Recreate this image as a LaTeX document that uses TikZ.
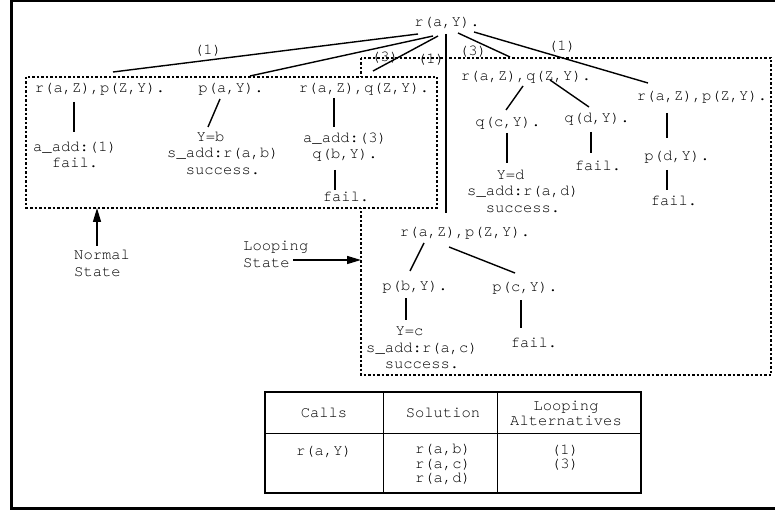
\documentclass[tikz,border=0pt]{standalone}
\usepackage{fontspec}
\setmonofont{texgyrecursor-regular.otf}
\usetikzlibrary{arrows.meta}

\begin{document}
\begin{tikzpicture}[x=1pt,y=-1pt,
  every node/.style={font=\ttfamily\fontsize{15.5}{16.5}\selectfont,inner sep=0pt,align=center},
  tabtext/.style={font=\ttfamily\fontsize{15.5}{14.5}\selectfont},
  conn/.style={line width=1.4pt},
  dotbox/.style={line width=1.3pt,dash pattern=on 2.5pt off 2pt},
  ptr/.style={line width=1.4pt,-{Triangle[length=14pt,width=8pt]}}]
  \useasboundingbox (0,0) rectangle (775,510);
  \draw[line width=3pt] (777,1) -- (11.5,1) -- (11.5,508.5) -- (777,508.5);
  % the two states
  \coordinate (rbox-nw) at (361,58);
  \coordinate (rbox-se) at (771,375);
  \coordinate (lbox-nw) at (26,77);
  \coordinate (lbox-se) at (437,208);
  \draw[dotbox] (rbox-nw) rectangle (rbox-se);
  \draw[dotbox,fill=white] (lbox-nw) rectangle (lbox-se);
  % goals
  \node (root) at (447,23) {r(a,Y).};
  \node (lrp) at (100,89) {r(a,Z),p(Z,Y).};
  \node (lpa) at (231,89) {p(a,Y).};
  \node (lrq) at (364,89) {r(a,Z),q(Z,Y).};
  \node (lfail1) at (75,155) {a\_add:(1)\\fail.};
  \node (lsucc) at (223,153) {Y=b\hspace*{25pt}\\s\_add:r(a,b)\\success.};
  \node (laddq) at (345,147) {a\_add:(3)\\q(b,Y).};
  \node (lfail2) at (346,197) {fail.};
  \node (rrq) at (526,77) {r(a,Z),q(Z,Y).};
  \node (rqc) at (508,123) {q(c,Y).};
  \node (rqd) at (597,119) {q(d,Y).};
  \node (rsucc) at (523,191) {Y=d\hspace*{25pt}\\s\_add:r(a,d)\\success.};
  \node (rfail1) at (598,166) {fail.};
  \node (rrp) at (702,97) {r(a,Z),p(Z,Y).};
  \node (rpd) at (677,157) {p(d,Y).};
  \node (rfail2) at (674,201) {fail.};
  \node (mrp) at (465,233) {r(a,Z),p(Z,Y).};
  \node (mpb) at (415,287) {p(b,Y).};
  \node (mpc) at (525,288) {p(c,Y).};
  \node (msucc) at (422,348) {Y=c\hspace*{25pt}\\s\_add:r(a,c)\\success.};
  \node (mfail) at (534,343) {fail.};
  % branch numbers
  \node (alt1a) at (208,51) {(1)};
  \node (alt3a) at (385,58) {(3)};
  \node (alt1b) at (431,60) {(1)};
  \node (alt3b) at (473,52) {(3)};
  \node (alt1c) at (562,47) {(1)};
  % branches
  \draw[conn] ([shift={(-29,11)}]root.center) -- ([shift={(13,-17)}]lrp.center);
  \draw[conn] ([shift={(-14,13)}]root.center) -- ([shift={(19,-13)}]lpa.center);
  \draw[conn] ([shift={(-9,13)}]root.center) -- ([shift={(9,-18)}]lrq.center);
  \draw[conn] ([shift={(-1,11)}]root.center) -- ([shift={(-19,-20)}]mrp.center);
  \draw[conn] ([shift={(11,10)}]root.center) -- ([shift={(-16,-20)}]rrq.center);
  \draw[conn] ([shift={(27,9)}]root.center) -- ([shift={(-54,-14)}]rrp.center);
  \draw[conn] ([shift={(-26,13)}]lrp.center) -- ([shift={(-1,-23)}]lfail1.center);
  \draw[conn] ([shift={(-11,10)}]lpa.center) -- ([shift={(-15,-26)}]lsucc.center);
  \draw[conn] ([shift={(-30,9)}]lrq.center) -- ([shift={(-11,-20)}]laddq.center);
  \draw[conn] ([shift={(-10,23)}]laddq.center) -- ([shift={(-11,-7)}]lfail2.center);
  \draw[conn] ([shift={(-3,9)}]rrq.center) -- ([shift={(-2,-13)}]rqc.center);
  \draw[conn] ([shift={(24,3)}]rrq.center) -- ([shift={(-8,-12)}]rqd.center);
  \draw[conn] ([shift={(-1,10)}]rqc.center) -- ([shift={(-16,-28)}]rsucc.center);
  \draw[conn] ([shift={(-6,13)}]rqd.center) -- ([shift={(-7,-13)}]rfail1.center);
  \draw[conn] ([shift={(-35,16)}]rrp.center) -- ([shift={(-10,-19)}]rpd.center);
  \draw[conn] ([shift={(-10,13)}]rpd.center) -- ([shift={(-7,-11)}]rfail2.center);
  \draw[conn] ([shift={(-41,10)}]mrp.center) -- ([shift={(-5,-16)}]mpb.center);
  \draw[conn] ([shift={(-16,14)}]mrp.center) -- ([shift={(-10,-15)}]mpc.center);
  \draw[conn] ([shift={(-9,11)}]mpb.center) -- ([shift={(-16,-28)}]msucc.center);
  \draw[conn] ([shift={(-4,12)}]mpc.center) -- ([shift={(-13,-15)}]mfail.center);
  % state labels
  \node[anchor=west,align=left] (normal) at (74,263.5) {Normal\\State};
  \node[anchor=west,align=left] (looping) at (243,254.5) {Looping\\State};
  \coordinate (ntail) at (97,246);
  \coordinate (ltail) at (293,260);
  \draw[ptr] (ntail) -- (ntail |- lbox-se);
  \draw[ptr] (ltail) -- (ltail -| rbox-nw);
  % table
  \draw[line width=1.6pt] (265,392) rectangle (641,493);
  \draw[line width=1pt] (383,392) -- (383,493) (497,392) -- (497,493) (265,433) -- (641,433);
  \node (calls) at (324,413) {Calls};
  \node (soln) at (443,413) {Solution};
  \node[tabtext] (loopalt) at (566,413.5) {Looping\\Alternatives};
  \node (call1) at (324,452) {r(a,Y)};
  \node[tabtext] (sols) at (443,464.5) {r(a,b)\\r(a,c)\\r(a,d)};
  \node[tabtext] (alts) at (565,457.5) {(1)\\(3)};
\end{tikzpicture}
\end{document}
